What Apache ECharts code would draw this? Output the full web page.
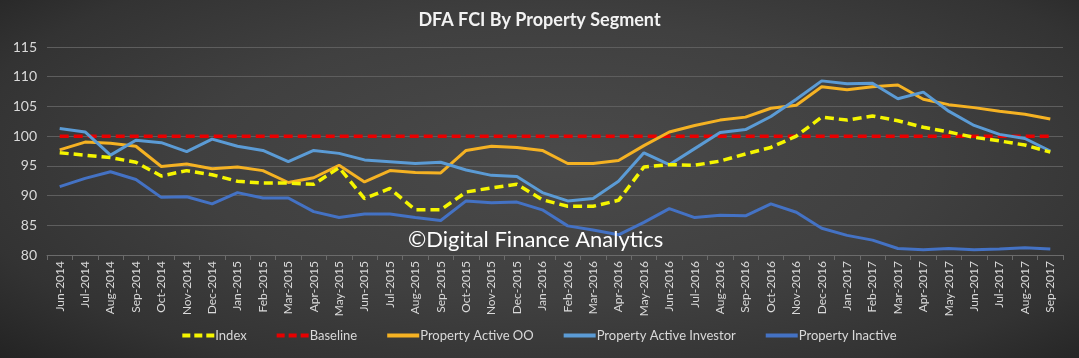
<!DOCTYPE html>
<html><head><meta charset="utf-8">
<script src="https://cdn.jsdelivr.net/npm/echarts@6/dist/echarts.min.js"></script>
<style>
html,body{margin:0;padding:0;background:#2a2a2a}
#c{width:1079px;height:358px;background:radial-gradient(ellipse 75% 85% at 52% 45%, #4a4a4a 0%, #404040 45%, #333333 75%, #1f1f1f 100%)}
</style>
</head><body><div id="c"></div>
<script>
var categories = ["Jun-2014","Jul-2014","Aug-2014","Sep-2014","Oct-2014","Nov-2014","Dec-2014","Jan-2015","Feb-2015","Mar-2015","Apr-2015","May-2015","Jun-2015","Jul-2015","Aug-2015","Sep-2015","Oct-2015","Nov-2015","Dec-2015","Jan-2016","Feb-2016","Mar-2016","Apr-2016","May-2016","Jun-2016","Jul-2016","Aug-2016","Sep-2016","Oct-2016","Nov-2016","Dec-2016","Jan-2017","Feb-2017","Mar-2017","Apr-2017","May-2017","Jun-2017","Jul-2017","Aug-2017","Sep-2017"];
var indexVals = [97.2,96.8,96.4,95.6,93.3,94.2,93.5,92.4,92.1,92.1,91.9,94.7,89.5,91.2,87.6,87.6,90.6,91.3,91.9,89.3,88.2,88.2,89.2,94.8,95.2,95.1,95.8,97.0,98.1,100.0,103.2,102.7,103.4,102.6,101.5,100.7,99.8,99.2,98.5,97.3];
var baselineVals = [100,100,100,100,100,100,100,100,100,100,100,100,100,100,100,100,100,100,100,100,100,100,100,100,100,100,100,100,100,100,100,100,100,100,100,100,100,100,100,100];
var activeOO = [97.7,99.0,98.8,98.3,94.9,95.3,94.5,94.8,94.2,92.2,93.0,95.1,92.3,94.2,93.9,93.8,97.6,98.3,98.1,97.6,95.4,95.4,95.9,98.4,100.7,101.8,102.7,103.2,104.7,105.2,108.3,107.8,108.3,108.6,106.2,105.3,104.8,104.2,103.7,102.9];
var activeInvestor = [101.3,100.7,96.8,99.3,98.9,97.4,99.5,98.3,97.6,95.7,97.6,97.1,96.0,95.7,95.4,95.6,94.3,93.4,93.2,90.5,89.1,89.5,92.4,97.2,95.2,97.9,100.6,101.1,103.3,106.2,109.3,108.8,108.9,106.3,107.4,104.2,101.8,100.3,99.6,97.5];
var inactive = [91.5,92.9,94.0,92.7,89.7,89.8,88.6,90.5,89.6,89.6,87.3,86.3,86.9,86.9,86.3,85.8,89.1,88.8,88.9,87.6,84.9,84.2,83.4,85.5,87.8,86.3,86.7,86.6,88.6,87.2,84.5,83.3,82.5,81.1,80.9,81.1,80.9,81.0,81.2,81.0];
var yTicks = {min: 80, max: 115, interval: 5};

var chart = echarts.init(document.getElementById('c'), null, {renderer: 'canvas'});
var font = 'Lato, "Liberation Sans", sans-serif';
function line(name, data, color, dashed, z, width) {
  return {
    name: name, type: 'line', data: data, symbol: 'none', smooth: false, z: z,
    lineStyle: {color: color, width: width || 3, type: dashed ? [9, 5] : 'solid'},
    itemStyle: {color: color}
  };
}
var dashIcon = 'path://M0,0 L8,0 L8,4 L0,4 Z M12,0 L20,0 L20,4 L12,4 Z M24,0 L32,0 L32,4 L24,4 Z';
chart.setOption({
  animation: false,
  backgroundColor: 'transparent',
  title: {
    text: 'DFA FCI By Property Segment', left: 'center', top: 6,
    textStyle: {color: '#f2f2f2', fontSize: 18, fontWeight: 'bold', fontFamily: font}
  },
  legend: {
    bottom: 11, left: 'center', itemWidth: 32, itemHeight: 4, itemGap: 30,
    icon: 'path://M0,0 L32,0 L32,4 L0,4 Z',
    textStyle: {color: '#d9d9d9', fontSize: 13, fontFamily: font, padding: [0, 0, 0, -4]},
    data: [
      {name: 'Index', icon: dashIcon},
      {name: 'Baseline', icon: dashIcon},
      'Property Active OO', 'Property Active Investor', 'Property Inactive'
    ]
  },
  grid: {left: 47, right: 16, top: 47, bottom: 103},
  xAxis: {
    type: 'category', data: categories, boundaryGap: true,
    axisLine: {lineStyle: {color: '#6b6b6b'}},
    axisTick: {show: true, alignWithLabel: false, lineStyle: {color: '#6b6b6b'}, length: 5},
    axisLabel: {rotate: 90, interval: 0, color: '#d9d9d9', fontSize: 12, fontFamily: font, margin: 6}
  },
  yAxis: {
    type: 'value', min: yTicks.min, max: yTicks.max, interval: yTicks.interval,
    axisLine: {show: false}, axisTick: {show: false},
    splitLine: {lineStyle: {color: '#5e5e5e', width: 1}},
    axisLabel: {color: '#d9d9d9', fontSize: 14, fontFamily: font, margin: 10}
  },
  graphic: [{
    type: 'text', left: 408, top: 229, z: 100,
    style: {text: '©Digital Finance Analytics', fill: '#ffffff', font: '22px ' + font}
  }],
  series: [
    line('Index', indexVals, '#f5f500', true, 5, 3.5),
    line('Baseline', baselineVals, '#e80000', true, 2, 3.5),
    line('Property Active OO', activeOO, '#f5b223', false, 3),
    line('Property Active Investor', activeInvestor, '#5b9bd5', false, 4),
    line('Property Inactive', inactive, '#4472c4', false, 3)
  ]
});
</script></body></html>
